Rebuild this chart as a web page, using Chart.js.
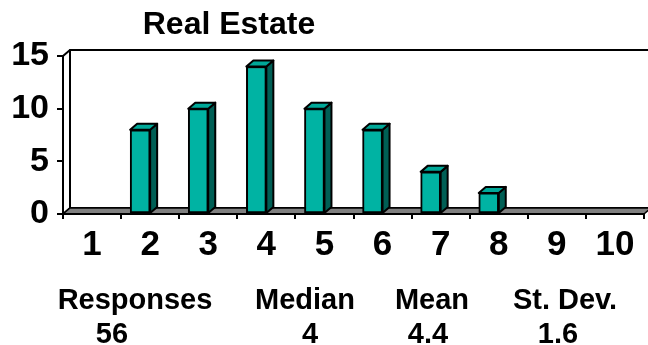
<!DOCTYPE html>
<html>
<head>
<meta charset="utf-8">
<title>Real Estate</title>
<script src="https://cdn.jsdelivr.net/npm/chart.js@4/dist/chart.umd.min.js"></script>
<style>
  body { margin: 0; background: #fff; }
  #wrap { position: relative; width: 648px; height: 345px; overflow: hidden; }
  #chart { position: absolute; left: 0; top: 0; }
  .txt {
    position: absolute;
    font-family: "Liberation Sans", Arial, sans-serif;
    font-weight: bold;
    color: #000;
    white-space: nowrap;
    transform: translateX(-50%);
  }
  #title { font-size: 32px; line-height: 32px; top: 7px; left: 229px; }
  .stat { font-size: 29px; line-height: 29px; }
</style>
</head>
<body>
<div id="wrap">
  <canvas id="chart" width="648" height="345"></canvas>
  <div id="title" class="txt">Real Estate</div>
  <div id="stats"></div>
</div>
<script>
const ratings = ["1", "2", "3", "4", "5", "6", "7", "8", "9", "10"];
const counts = [0, 8, 10, 14, 10, 8, 4, 2, 0, 0];
const yTicks = [0, 5, 10, 15];

const statNames = ["Responses", "Median", "Mean", "St. Dev."];
const statValues = ["56", "4", "4.4", "1.6"];

// where each summary column sits (centre x for name / value)
const statNameX = [135, 305, 432, 565];
const statValueX = [112, 310, 428, 558];

const statsBox = document.getElementById("stats");
statNames.forEach((name, i) => {
  const n = document.createElement("div");
  n.className = "txt stat";
  n.style.left = statNameX[i] + "px";
  n.style.top = "285px";
  n.textContent = name;
  statsBox.appendChild(n);

  const v = document.createElement("div");
  v.className = "txt stat";
  v.style.left = statValueX[i] + "px";
  v.style.top = "319px";
  v.textContent = statValues[i];
  statsBox.appendChild(v);
});

const FONT = "'Liberation Sans', Arial, sans-serif";
const DX = 7, DY = 6;          // depth of the fake 3d box
const BAR_SHIFT = -10;         // bars sit a little left of the tick label
const LINE = 2;
const TEAL = "#00B3A3";
const TEAL_TOP = "#00A898";
const TEAL_SIDE = "#005F55";

function poly(ctx, pts, fill) {
  ctx.beginPath();
  ctx.moveTo(pts[0][0], pts[0][1]);
  for (let i = 1; i < pts.length; i++) ctx.lineTo(pts[i][0], pts[i][1]);
  ctx.closePath();
  if (fill) { ctx.fillStyle = fill; ctx.fill(); }
  ctx.stroke();
}

// back wall, left wall and grey floor
const walls = {
  id: "walls",
  beforeDraw(chart) {
    const { ctx, chartArea: a } = chart;
    ctx.save();
    ctx.strokeStyle = "#000";
    ctx.lineWidth = LINE;
    ctx.lineJoin = "round";
    poly(ctx, [[a.left + DX, a.top - DY], [a.right + DX, a.top - DY],
               [a.right + DX, a.bottom - DY], [a.left + DX, a.bottom - DY]], "#fff");
    poly(ctx, [[a.left, a.top], [a.left + DX, a.top - DY],
               [a.left + DX, a.bottom - DY], [a.left, a.bottom]], "#fff");
    ctx.lineWidth = 1.5;
    poly(ctx, [[a.left, a.bottom], [a.left + DX, a.bottom - DY],
               [a.right + DX, a.bottom - DY], [a.right, a.bottom]], "#808080");
    ctx.restore();
  }
};

// top and side faces of each bar
const bars3d = {
  id: "bars3d",
  beforeDatasetDraw(chart) {
    chart.ctx.save();
    chart.ctx.translate(BAR_SHIFT, 0);
  },
  afterDatasetDraw(chart, args) {
    const ctx = chart.ctx;
    const data = chart.data.datasets[args.index].data;
    ctx.strokeStyle = "#000";
    ctx.lineWidth = LINE;
    ctx.lineJoin = "round";
    args.meta.data.forEach((bar, i) => {
      if (!data[i]) return;
      const { x, y, base, width } = bar.getProps(["x", "y", "base", "width"], true);
      const l = x - width / 2, r = x + width / 2;
      poly(ctx, [[r, y], [r + DX, y - DY], [r + DX, base - DY], [r, base]], TEAL_SIDE);
      poly(ctx, [[l, y], [l + DX, y - DY], [r + DX, y - DY], [r, y]], TEAL_TOP);
    });
    ctx.restore();
  }
};

new Chart(document.getElementById("chart"), {
  type: "bar",
  data: {
    labels: ratings,
    datasets: [{
      data: counts,
      backgroundColor: TEAL,
      borderColor: "#000",
      borderWidth: LINE,
      borderSkipped: false,
      barThickness: 20
    }]
  },
  options: {
    responsive: false,
    animation: false,
    devicePixelRatio: 1,
    layout: { padding: { top: 56, right: 4, bottom: 0, left: 0 } },
    plugins: {
      legend: { display: false },
      tooltip: { enabled: false }
    },
    scales: {
      x: {
        afterFit: s => { s.height = 131; },
        grid: { drawOnChartArea: false, color: "#000", lineWidth: LINE, tickLength: 5 },
        border: { display: true, color: "#000", width: LINE },
        ticks: { color: "#000", padding: 5, font: { family: FONT, size: 35, weight: "bold" } }
      },
      y: {
        min: 0,
        max: 15,
        afterFit: s => { s.width = 63; },
        afterBuildTicks: s => { s.ticks = yTicks.map(v => ({ value: v })); },
        grid: { drawOnChartArea: false, color: "#000", lineWidth: LINE, tickLength: 6 },
        border: { display: true, color: "#000", width: LINE },
        ticks: { color: "#000", padding: 8, font: { family: FONT, size: 34, weight: "bold" } }
      }
    }
  },
  plugins: [walls, bars3d]
});
</script>
</body>
</html>
